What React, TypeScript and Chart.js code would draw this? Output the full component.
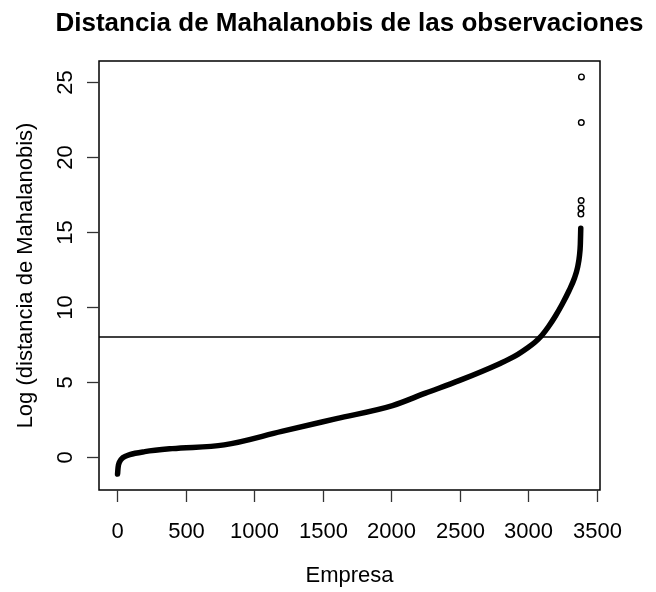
import React, { useEffect, useRef } from "react";
import { Chart, registerables } from "chart.js";

Chart.register(...registerables);

const TITLE = "Distancia de Mahalanobis de las observaciones";
const X_LABEL = "Empresa";
const Y_LABEL = "Log (distancia de Mahalanobis)";

const X_TICKS = [0, 500, 1000, 1500, 2000, 2500, 3000, 3500];
const Y_TICKS = [0, 5, 10, 15, 20, 25];

const CURVE_X = [1, 5, 15, 40, 90, 200, 400, 780, 1200, 1600, 2010, 2250, 2500, 2800, 2900, 3000, 3050, 3100, 3150, 3200, 3250, 3300, 3340, 3362, 3376, 3382, 3385];
const CURVE_Y = [-1.15, -0.7, -0.35, -0.05, 0.15, 0.35, 0.55, 0.8, 1.7, 2.55, 3.42, 4.25, 5.1, 6.25, 6.7, 7.3, 7.65, 8.1, 8.7, 9.4, 10.2, 11.1, 11.95, 12.65, 13.45, 14.2, 15.25];

const OUT_X = [3386, 3387, 3388, 3389, 3390];
const OUT_Y = [16.2, 16.6, 17.1, 22.3, 25.35];

const THRESHOLD = 8;

const N = 3390;
const X_MIN = 1 - 0.04 * (N - 1);
const X_MAX = N + 0.04 * (N - 1);
const Y_DATA_MIN = -1.15;
const Y_DATA_MAX = 25.35;
const Y_MIN = Y_DATA_MIN - 0.04 * (Y_DATA_MAX - Y_DATA_MIN);
const Y_MAX = Y_DATA_MAX + 0.04 * (Y_DATA_MAX - Y_DATA_MIN);

const FONT = '"Liberation Sans", Arial, Helvetica, sans-serif';

const axesPlugin = {
  id: "rAxes",
  afterDraw(chart: any) {
    const { ctx, chartArea } = chart;
    const xs = chart.scales.x;
    const ys = chart.scales.y;
    const { left, right, top, bottom } = chartArea;
    ctx.save();
    ctx.strokeStyle = "#000";
    ctx.fillStyle = "#000";
    ctx.lineWidth = 1.5;
    ctx.strokeRect(left, top, right - left, bottom - top);

    ctx.font = `22px ${FONT}`;
    ctx.textAlign = "center";
    ctx.textBaseline = "alphabetic";
    ctx.strokeStyle = "#333";
    ctx.lineWidth = 1.3;
    for (const v of X_TICKS) {
      const px = Math.round(xs.getPixelForValue(v)) + 0.5;
      ctx.beginPath();
      ctx.moveTo(px, bottom);
      ctx.lineTo(px, bottom + 12);
      ctx.stroke();
      ctx.fillText(String(v), px, 538);
    }
    for (const v of Y_TICKS) {
      const py = Math.round(ys.getPixelForValue(v)) + 0.5;
      ctx.beginPath();
      ctx.moveTo(left, py);
      ctx.lineTo(left - 12, py);
      ctx.stroke();
      ctx.save();
      ctx.translate(72, py);
      ctx.rotate(-Math.PI / 2);
      ctx.fillText(String(v), 0, 0);
      ctx.restore();
    }
    const cx = (left + right) / 2;
    const cy = (top + bottom) / 2;
    ctx.fillText(X_LABEL, cx, 582);
    ctx.save();
    ctx.translate(32, cy);
    ctx.rotate(-Math.PI / 2);
    ctx.fillText(Y_LABEL, 0, 0);
    ctx.restore();

    ctx.font = `bold 26px ${FONT}`;
    ctx.fillText(TITLE, cx, 31);
    ctx.restore();
  },
};

export default function App() {
  const ref = useRef<HTMLCanvasElement | null>(null);
  useEffect(() => {
    document.body.style.margin = "0";
    const canvas = ref.current;
    if (!canvas) return;
    const curve = CURVE_X.map((x, i) => ({ x, y: CURVE_Y[i] }));
    const outliers = OUT_X.map((x, i) => ({ x, y: OUT_Y[i] }));
    const chart = new Chart(canvas, {
      type: "scatter",
      data: {
        datasets: [
          {
            data: [
              { x: X_MIN, y: THRESHOLD },
              { x: X_MAX, y: THRESHOLD },
            ],
            showLine: true,
            borderColor: "#000",
            borderWidth: 1.5,
            pointRadius: 0,
          },
          {
            data: curve,
            showLine: true,
            borderColor: "#000",
            borderWidth: 5.5,
            borderCapStyle: "round",
            borderJoinStyle: "round",
            cubicInterpolationMode: "monotone",
            pointRadius: 0,
          },
          {
            data: outliers,
            showLine: false,
            pointStyle: "circle",
            pointRadius: 2.8,
            borderWidth: 1.4,
            borderColor: "#000",
            backgroundColor: "rgba(0,0,0,0)",
          },
        ],
      },
      options: {
        responsive: false,
        animation: false,
        devicePixelRatio: 1,
        layout: { padding: { left: 99, right: 56, top: 61, bottom: 102 } },
        plugins: {
          legend: { display: false },
          tooltip: { enabled: false },
          title: { display: false },
        },
        scales: {
          x: { type: "linear", display: false, min: X_MIN, max: X_MAX },
          y: { type: "linear", display: false, min: Y_MIN, max: Y_MAX },
        },
      },
      plugins: [axesPlugin],
    });
    return () => chart.destroy();
  }, []);
  return (
    <div style={{ position: "fixed", left: 0, top: 0, width: 656, height: 592, background: "#fff" }}>
      <canvas ref={ref} width={656} height={592} style={{ display: "block" }} />
    </div>
  );
}
